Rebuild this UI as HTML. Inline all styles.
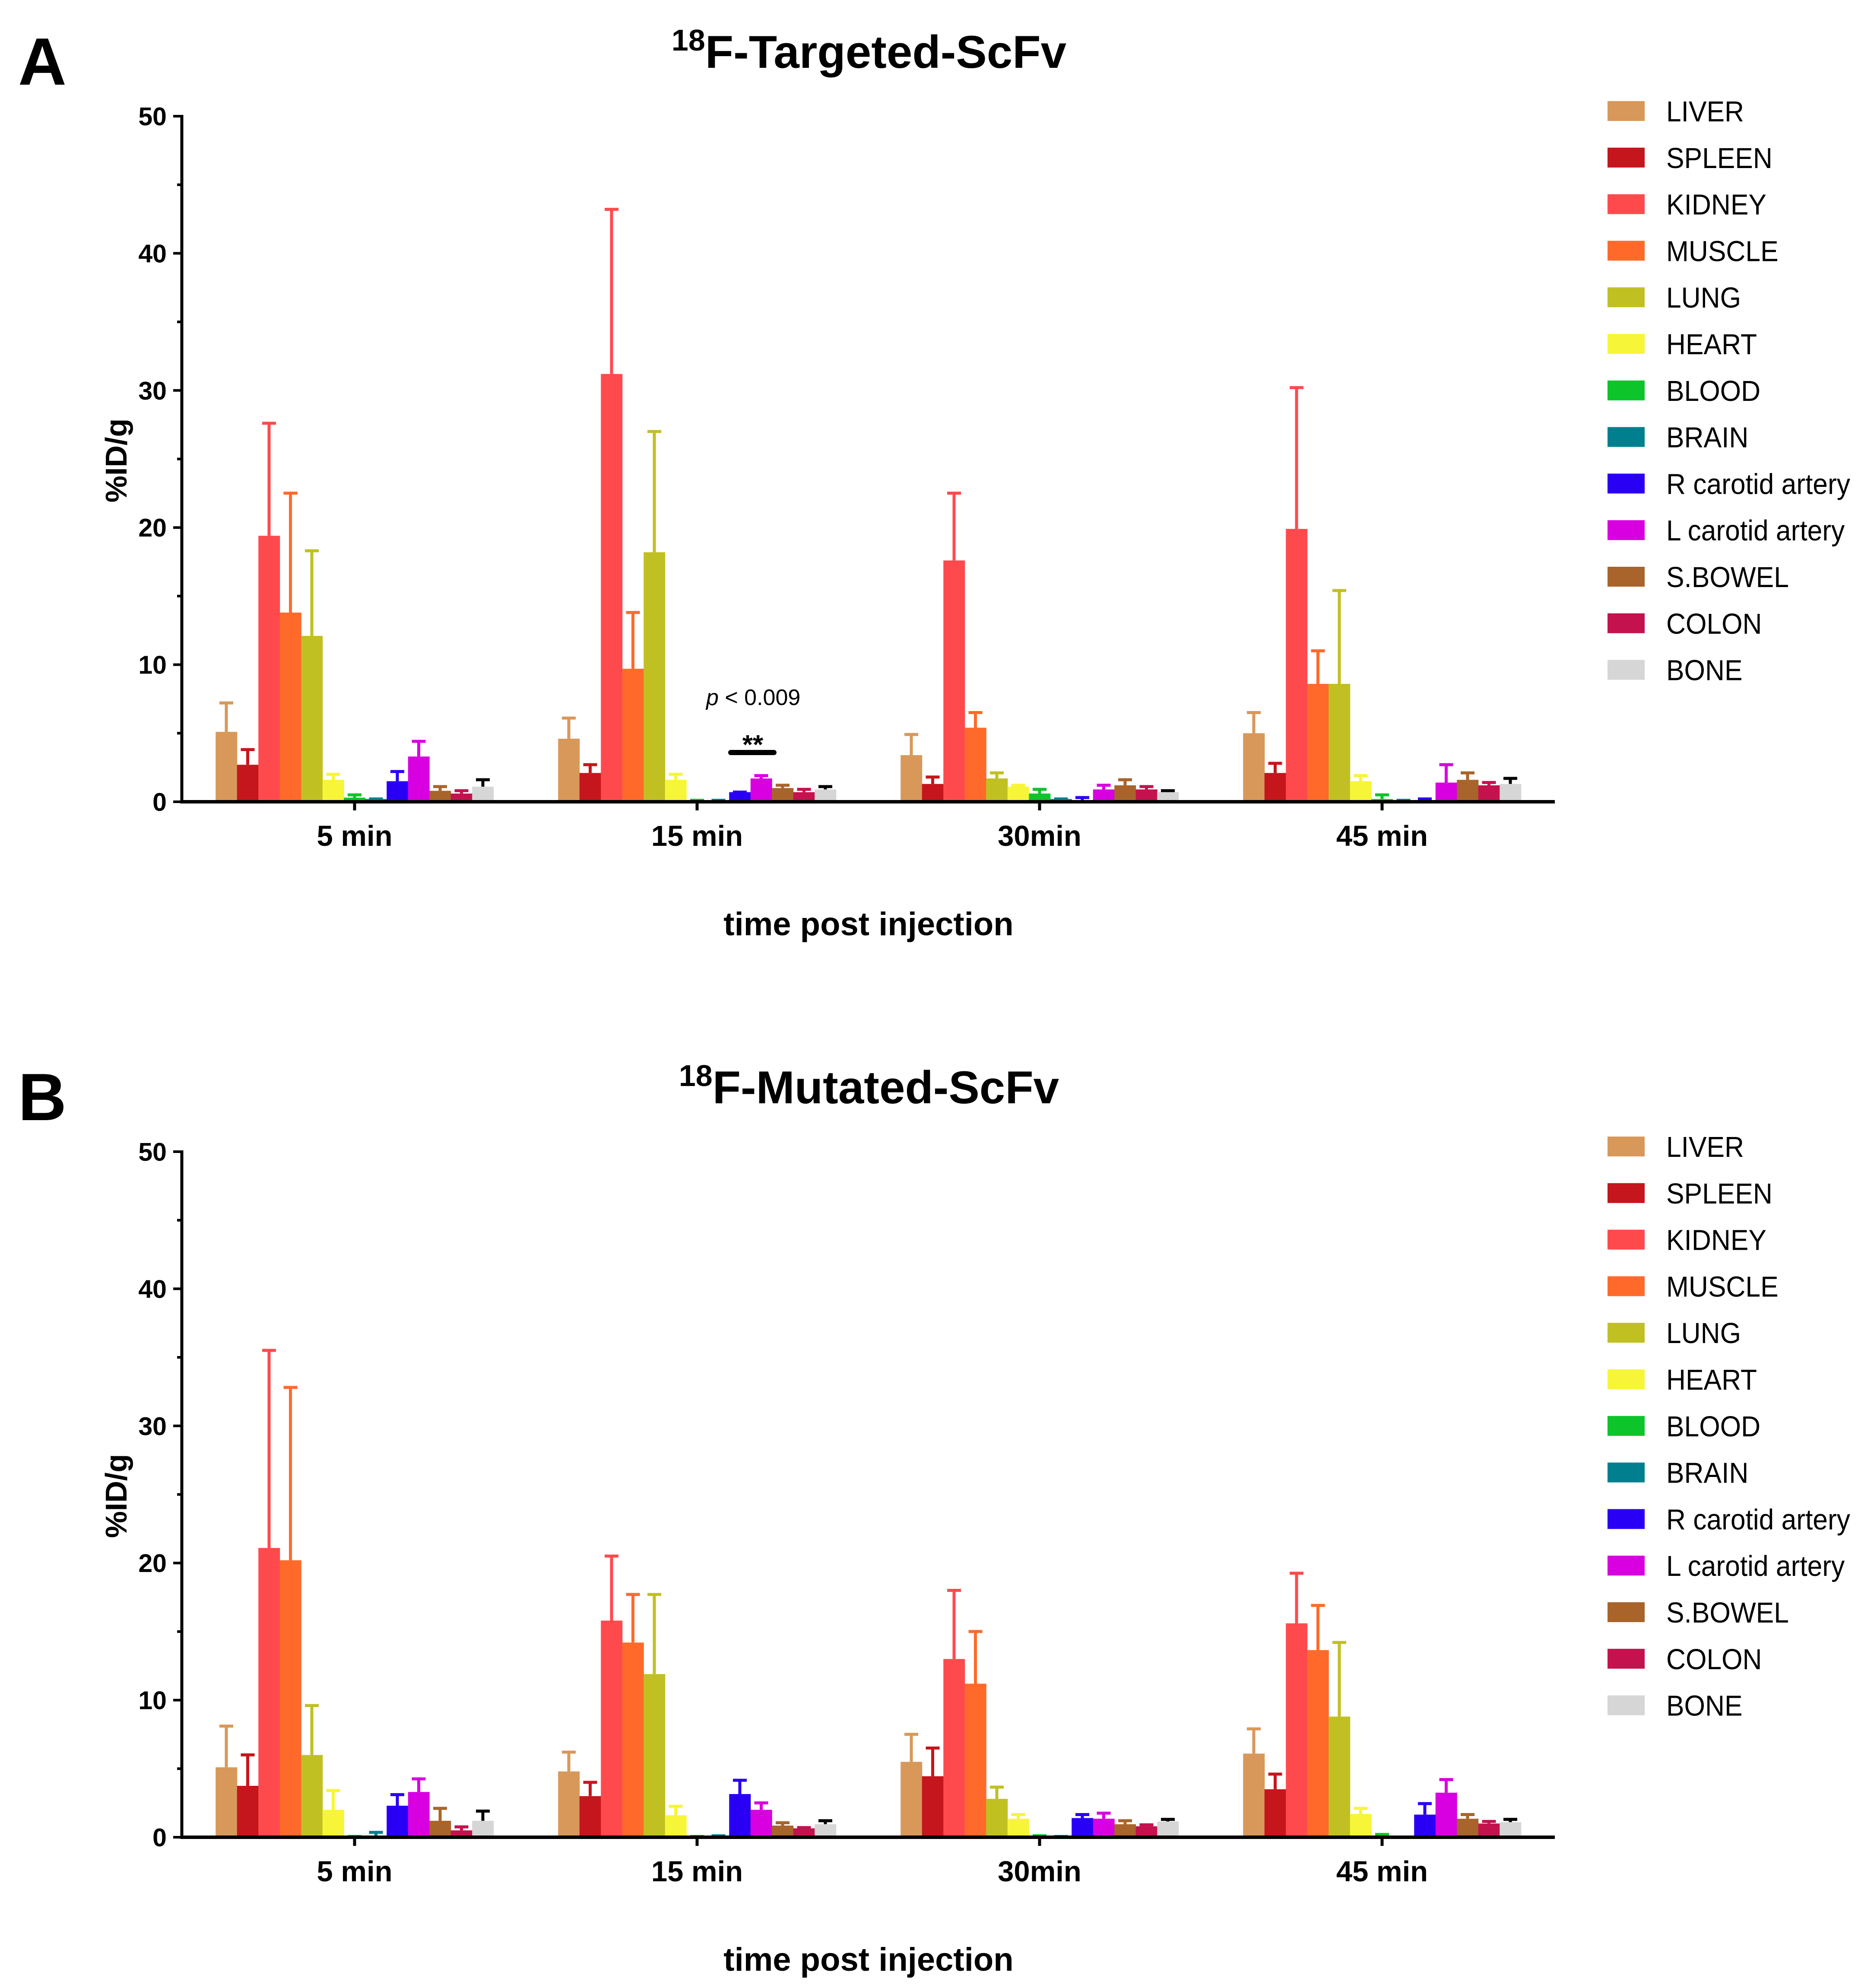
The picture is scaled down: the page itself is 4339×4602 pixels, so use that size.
<!DOCTYPE html>
<html><head><meta charset="utf-8"><style>
html,body{margin:0;padding:0;background:#fff;}
svg{display:block;font-family:"Liberation Sans",Arial,sans-serif;}
</style></head><body>
<svg id="fig" width="4339" height="4602" viewBox="0 0 4339 4602" xmlns="http://www.w3.org/2000/svg"></svg>
<script>
const categories = ["5 min","15 min","30min","45 min"];
const organs = ["LIVER","SPLEEN","KIDNEY","MUSCLE","LUNG","HEART","BLOOD","BRAIN","R carotid artery","L carotid artery","S.BOWEL","COLON","BONE"];
const colors = ["#D8985A","#C4161C","#FF4A4D","#FF6A2A","#C0C023","#F7F537","#0DC42B","#00808F","#2A00F5","#D800E0","#A8642A","#C4124E","#D6D6D6"];
const errColors = ["#D8985A","#C4161C","#FF4A4D","#FF6A2A","#C0C023","#F7F537","#0DC42B","#00808F","#2A00F5","#D800E0","#A8642A","#C4124E","#000000"];
const yTicks = [0,10,20,30,40,50];
// Panel A (Targeted): mean per organ, per time point
const targeted5 = [5.1,2.7,19.4,13.8,12.1,1.6,0.3,0.2,1.5,3.3,0.8,0.6,1.1];
const targeted15 = [4.6,2.1,31.2,9.7,18.2,1.6,0.1,0.1,0.7,1.7,1.0,0.7,0.9];
const targeted30 = [3.4,1.3,17.6,5.4,1.7,1.1,0.6,0.2,0.1,0.9,1.2,0.9,0.7];
const targeted45 = [5.0,2.1,19.9,8.6,8.6,1.5,0.2,0.1,0.05,1.4,1.6,1.2,1.3];
const targetedErr5 = [7.3,3.9,27.7,22.6,18.4,2.1,0.6,0.3,2.3,4.5,1.2,0.9,1.7];
const targetedErr15 = [6.2,2.8,43.3,13.9,27.1,2.1,0.2,0.2,0.8,2.0,1.3,1.0,1.2];
const targetedErr30 = [5.0,1.9,22.6,6.6,2.2,1.3,1.0,0.3,0.4,1.3,1.7,1.2,0.9];
const targetedErr45 = [6.6,2.9,30.3,11.1,15.5,2.0,0.6,0.2,0.3,2.8,2.2,1.5,1.8];
// Panel B (Mutated)
const mutated5 = [5.1,3.75,21.1,20.2,6.0,2.0,0.05,0.1,2.3,3.3,1.2,0.5,1.2];
const mutated15 = [4.8,3.0,15.8,14.2,11.9,1.6,0.05,0.1,3.15,2.0,0.85,0.65,0.95];
const mutated30 = [5.5,4.45,13.0,11.2,2.8,1.35,0.1,0.1,1.4,1.35,0.95,0.8,1.15];
const mutated45 = [6.1,3.5,15.6,13.65,8.8,1.7,0.1,0.05,1.65,3.25,1.35,1.0,1.1];
const mutatedErr5 = [8.2,6.1,35.6,32.9,9.7,3.5,0.15,0.45,3.2,4.35,2.2,0.85,2.0];
const mutatedErr15 = [6.3,4.1,20.6,17.8,17.8,2.35,0.15,0.2,4.25,2.6,1.15,0.8,1.3];
const mutatedErr30 = [7.6,6.6,18.1,15.1,3.75,1.75,0.2,0.15,1.75,1.85,1.3,1.0,1.4];
const mutatedErr45 = [8.0,4.7,19.35,17.0,14.3,2.2,0.3,0.1,2.55,4.3,1.75,1.25,1.4];

const NS="http://www.w3.org/2000/svg";
const svg=document.getElementById('fig');
function mk(tag,attrs,parent,text){const e=document.createElementNS(NS,tag);for(const k in attrs)e.setAttribute(k,attrs[k]);if(text!==undefined)e.textContent=text;(parent||svg).appendChild(e);return e;}

const X0=421, X1=3600, GAP=793, C0=821, BW=49.5;
function xCenter(ci){return C0+ci*GAP;}
function xBar(ci,oi){return xCenter(ci)-13*BW/2+oi*BW;}

function panel(off, letter, titleRest, means, errs, pname){
  const g=mk('g',{});
  
  
  const y0=1856+off, yTop=269+off;
  const yS=v=>y0-(v/50)*(y0-yTop);
  let t=mk('text',{x:42,y:196+off,'font-size':155,'font-weight':'bold',fill:'#000'},g,letter);
  
  
  t=mk('text',{x:2012,y:157+off,'font-size':107,'font-weight':'bold','text-anchor':'middle',fill:'#000'},g);
  
  
  mk('tspan',{'font-size':70,dy:-40},t,'18');
  mk('tspan',{dy:40},t,titleRest);
  for(let ci=0;ci<categories.length;ci++){
    for(let oi=0;oi<organs.length;oi++){
      const v=means[ci][oi], e=errs[ci][oi];
      const x=xBar(ci,oi), yv=yS(v), ye=yS(e), cx=x+BW/2;
      const ec=errColors[oi];
      const l=mk('line',{x1:cx,x2:cx,y1:yv,y2:ye,stroke:ec,'stroke-width':7},g);
      
      
      const c=mk('line',{x1:cx-16,x2:cx+16,y1:ye+3,y2:ye+3,stroke:ec,'stroke-width':7},g);
      
      
      const r=mk('rect',{x:x,y:yv,width:BW+0.5,height:Math.max(0,y0-yv),fill:colors[oi]},g);
      
      
    }
  }
  let a=mk('line',{x1:X0,x2:X0,y1:yTop-3,y2:y0+4,stroke:'#000','stroke-width':7},g);
  
  
  for(let v=0;v<=50;v+=5){
    const tk=mk('line',{x1:X0-(v%10===0?20:11),x2:X0,y1:yS(v),y2:yS(v),stroke:'#000','stroke-width':6},g);
    
    
  }
  yTicks.forEach(v=>{
    const tl=mk('text',{x:386,y:yS(v)+21,'font-size':59,'font-weight':'bold','text-anchor':'end',fill:'#000'},g,String(v));
    
    
  });
  const yt=mk('text',{x:0,y:0,'font-size':70,'font-weight':'bold','text-anchor':'middle',fill:'#000',transform:`translate(293,${1066+off}) rotate(-90)`},g,'%ID/g');
  
  
  a=mk('line',{x1:X0-3,x2:X1,y1:y0,y2:y0,stroke:'#000','stroke-width':8},g);
  
  
  categories.forEach((c,ci)=>{
    const tk=mk('line',{x1:xCenter(ci),x2:xCenter(ci),y1:y0,y2:y0+20,stroke:'#000','stroke-width':7},g);
    
    
    const tl=mk('text',{x:xCenter(ci),y:1958+off,'font-size':67,'font-weight':'bold','text-anchor':'middle',fill:'#000'},g,c);
    
    
  });
  const xt=mk('text',{x:2011,y:2165+off,'font-size':76,'font-weight':'bold','text-anchor':'middle',fill:'#000'},g,'time post injection');
  
  
  organs.forEach((o,oi)=>{
    const cy=257+off+oi*107.8;
    const lg=mk('g',{},g);
    
    
    mk('rect',{x:3722,y:cy-23,width:86,height:46,fill:colors[oi]},lg);
    mk('text',{x:3858,y:cy+24,'font-size':67,fill:'#000',transform:`translate(${3858*0.07},0) scale(0.93,1)`},lg,o);
  });
  return {g,yS};
}
panel(0,'A','F-Targeted-ScFv',[targeted5,targeted15,targeted30,targeted45],[targetedErr5,targetedErr15,targetedErr30,targetedErr45],'panel-a-targeted');
panel(2397,'B','F-Mutated-ScFv',[mutated5,mutated15,mutated30,mutated45],[mutatedErr5,mutatedErr15,mutatedErr30,mutatedErr45],'panel-b-mutated');
let p=mk('text',{x:1635,y:1632,'font-size':52,fill:'#000'});


mk('tspan',{'font-style':'italic'},p,'p');
mk('tspan',{},p,' < 0.009');
let s=mk('line',{x1:1692,x2:1792,y1:1742,y2:1742,stroke:'#000','stroke-width':12,'stroke-linecap':'round'});


let st=mk('text',{x:1743,y:1745,'font-size':62,'font-weight':'bold','text-anchor':'middle',fill:'#000'},svg,'**');


</script>
</body></html>
